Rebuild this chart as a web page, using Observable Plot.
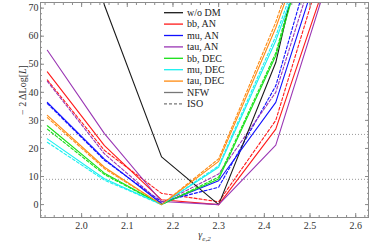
<!DOCTYPE html>
<html><head><meta charset="utf-8">
<script src="https://cdn.jsdelivr.net/npm/d3@7"></script>
<script src="https://cdn.jsdelivr.net/npm/@observablehq/plot@0.6"></script>
<style>
body{margin:0;background:#fff;}
#chart{position:relative;width:374px;height:245px;}
</style></head><body><div id="chart"></div>
<script>
// gamma_{e,2} grid points
const gammaValues = [1.925, 2.05, 2.175, 2.3, 2.425, 2.55];

// -2 ΔLog[L] values (NFW = solid, ISO = dashed)
const woDM       = [150, 71, 17.0, 0.0, 50.6, 138];
const bbAN_NFW   = [47.3, 21.0, 1.7, 0.0, 26.9, 87];
const bbAN_ISO   = [44.4, 19.3, 4.0, 1.0, 30.0, 97];
const muAN_NFW   = [36.4, 16.2, 0.3, 8.5, 36.4, 100];
const muAN_ISO   = [36.0, 15.8, 1.0, 6.2, 42.3, 113];
const tauAN_NFW  = [55.0, 25.3, 1.1, 0.0, 21.2, 86];
const tauAN_ISO  = [43.9, 18.1, 0.5, 10.9, 40.0, 105];
const bbDEC_NFW  = [28.1, 11.2, 0.0, 9.1, 53.0, 125];
const bbDEC_ISO  = [26.9, 10.7, 0.0, 9.8, 54.0, 128];
const muDEC_NFW  = [23.4, 9.2, 0.0, 13.3, 58.4, 114];
const muDEC_ISO  = [22.2, 8.7, 0.0, 13.8, 60.0, 118];
const tauDEC_NFW = [31.8, 13.3, 0.0, 15.4, 63.0, 120];
const tauDEC_ISO = [31.0, 12.8, 0.0, 16.3, 65.0, 125];

const seriesNames = ["w/o DM", "bb, AN", "mu, AN", "tau, AN", "bb, DEC", "mu, DEC", "tau, DEC"];
const seriesColors = ["#1a1a1a", "#ff1a1a", "#1010ff", "#9a36b4", "#18e018", "#18f0f0", "#ff8a10"];
const profileNames = ["NFW", "ISO"];

const xTicks = [2.0, 2.1, 2.2, 2.3, 2.4, 2.5, 2.6];
const yTicks = [0, 10, 20, 30, 40, 50, 60, 70];
const xMinorTicks = d3.range(1.92, 2.63, 0.02).map(v => +v.toFixed(2));
const yMinorTicks = d3.range(-4, 72, 2);
const refLevels = [25, 9];

const yLabel = "− 2 ΔLog[L]";
const xLabel = "γe,2";

const solidSets = [
  ["w/o DM", woDM], ["bb, AN", bbAN_NFW], ["mu, AN", muAN_NFW], ["tau, AN", tauAN_NFW],
  ["bb, DEC", bbDEC_NFW], ["mu, DEC", muDEC_NFW], ["tau, DEC", tauDEC_NFW]
];
const dashedSets = [
  ["bb, AN", bbAN_ISO], ["mu, AN", muAN_ISO], ["tau, AN", tauAN_ISO],
  ["bb, DEC", bbDEC_ISO], ["mu, DEC", muDEC_ISO], ["tau, DEC", tauDEC_ISO]
];
const toRows = sets => sets.flatMap(([name, vals]) => vals.map((v, i) => ({x: gammaValues[i], y: v, series: name})));
const solidRows = toRows(solidSets);
const dashedRows = toRows(dashedSets);

const frameColor = "#8c8c8c";
const noText = () => "";

const chart = Plot.plot({
  width: 374, height: 245,
  marginLeft: 40, marginRight: 6, marginTop: 2, marginBottom: 28,
  x: {domain: [1.91, 2.628]},
  y: {domain: [-4.6, 72]},
  color: {domain: seriesNames, range: seriesColors},
  style: {fontFamily: "'Liberation Serif', 'DejaVu Serif', serif", fontSize: "10px", color: "#333", background: "#fff"},
  marks: [
    Plot.ruleY(refLevels, {stroke: "#999", strokeDasharray: "1,2", strokeWidth: 1}),
    Plot.line(dashedRows, {x: "x", y: "y", z: "series", stroke: "series", strokeWidth: 1.1, strokeDasharray: "3,2", clip: true}),
    Plot.line(solidRows, {x: "x", y: "y", z: "series", stroke: "series", strokeWidth: 1.1, clip: true}),
    Plot.frame({stroke: frameColor}),
    Plot.axisY(yTicks, {anchor: "left", tickSize: -4, tickPadding: 6, label: null, stroke: frameColor, fill: "#333"}),
    Plot.axisY(yMinorTicks, {anchor: "left", tickSize: -2, tickFormat: noText, label: null, stroke: frameColor}),
    Plot.axisY(yTicks, {anchor: "right", tickSize: -4, tickFormat: noText, label: null, stroke: frameColor}),
    Plot.axisY(yMinorTicks, {anchor: "right", tickSize: -2, tickFormat: noText, label: null, stroke: frameColor}),
    Plot.axisX(xTicks, {anchor: "bottom", tickSize: -4, tickPadding: 8, tickFormat: d3.format(".1f"), label: null, stroke: frameColor, fill: "#333"}),
    Plot.axisX(xMinorTicks, {anchor: "bottom", tickSize: -2, tickFormat: noText, label: null, stroke: frameColor}),
    Plot.axisX(xTicks, {anchor: "top", tickSize: -4, tickFormat: noText, label: null, stroke: frameColor}),
    Plot.axisX(xMinorTicks, {anchor: "top", tickSize: -2, tickFormat: noText, label: null, stroke: frameColor}),
    Plot.text([yLabel], {frameAnchor: "left", dx: -18, dy: 5, rotate: -90, text: d => d, fill: "#333", fontSize: 10}),
    Plot.text([xLabel], {frameAnchor: "bottom", dy: 20, text: d => d, fill: "#333", fontSize: 10})
  ]
});

document.getElementById("chart").appendChild(chart);

// rich text for axis labels
const svg = d3.select(chart);
svg.selectAll("text").filter(function() { return this.textContent === yLabel; }).each(function() {
  const t = d3.select(this); t.text(null);
  t.append("tspan").text("− 2 ΔLog[");
  t.append("tspan").attr("font-style", "italic").text("L");
  t.append("tspan").text("]");
});
svg.selectAll("text").filter(function() { return this.textContent === xLabel; }).each(function() {
  const t = d3.select(this); t.text(null);
  t.append("tspan").attr("font-style", "italic").text("γ");
  t.append("tspan").attr("font-style", "italic").attr("font-size", 7).attr("dy", 3).text("e,2");
});

// legend inside the plot
const legendItems = seriesNames.map((n, i) => ({label: n, color: seriesColors[i], dash: null}))
  .concat([{label: profileNames[0], color: "#777", dash: null}, {label: profileNames[1], color: "#777", dash: "3,2"}]);
const lg = svg.append("g")
  .attr("font-family", "'Liberation Serif', 'DejaVu Serif', serif")
  .attr("font-size", 10)
  .attr("text-anchor", "start");
legendItems.forEach((d, i) => {
  const y = 12.7 + i * 11.4;
  lg.append("line").attr("x1", 164).attr("x2", 183).attr("y1", y).attr("y2", y)
    .attr("stroke", d.color).attr("stroke-width", 1.3).attr("stroke-dasharray", d.dash);
  lg.append("text").attr("x", 187).attr("y", y).attr("dy", "0.33em").attr("fill", "#222").attr("text-anchor", "start").text(d.label);
});
</script></body></html>
